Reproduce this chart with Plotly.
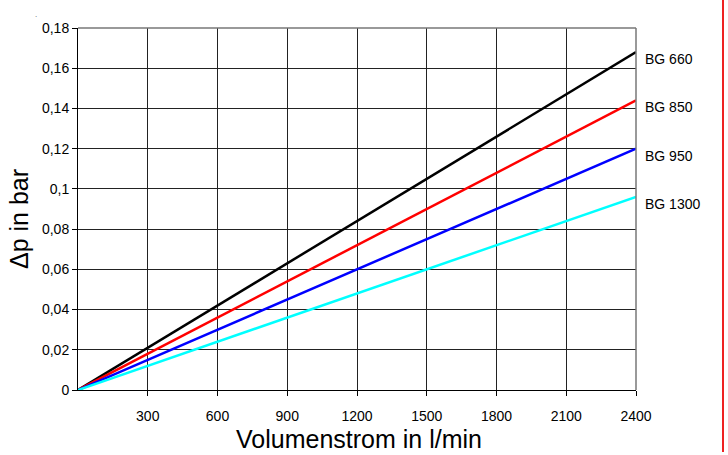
import plotly.graph_objects as go

flow = [0, 2400]
series_names = ["BG 660", "BG 850", "BG 950", "BG 1300"]
bg660 = [0, 0.168]
bg850 = [0, 0.144]
bg950 = [0, 0.120]
bg1300 = [0, 0.096]
colors = ["#000000", "#ff0000", "#0000ff", "#00ffff"]
x_ticks = [300, 600, 900, 1200, 1500, 1800, 2100, 2400]
y_ticks = [0, 0.02, 0.04, 0.06, 0.08, 0.1, 0.12, 0.14, 0.16, 0.18]
y_ticktext = ["0", "0,02", "0,04", "0,06", "0,08", "0,1", "0,12", "0,14", "0,16", "0,18"]
x_title = "Volumenstrom in l/min"
y_title = "Δp in bar"

fig = go.Figure()
all_series = [bg660, bg850, bg950, bg1300]
for name, vals, c in zip(series_names, all_series, colors):
    fig.add_trace(go.Scatter(x=flow, y=vals, mode="lines", name=name,
                             line=dict(color=c, width=2.5), showlegend=False))
    fig.add_annotation(x=flow[-1], y=vals[-1], xref="x", yref="y", text=name,
                       showarrow=False, xanchor="left", yanchor="middle",
                       xshift=7, yshift=-7, font=dict(size=14, color="#000"))

L, T, W, H = 78, 28, 558, 362
font = "Liberation Sans, Arial, Helvetica, sans-serif"
fig.update_layout(
    width=728, height=455,
    margin=dict(l=L, r=728 - L - W, t=T, b=455 - T - H),
    plot_bgcolor="white", paper_bgcolor="white",
    font=dict(family=font, color="#000", size=14),
    xaxis=dict(range=[0, 2400], tickvals=x_ticks, ticks="outside", ticklen=5,
               tickcolor="#000", showgrid=True, gridcolor="#222", gridwidth=1,
               showline=True, linecolor="#000", linewidth=1, mirror=False,
               zeroline=False, ticklabelstandoff=8, tickfont=dict(size=14)),
    yaxis=dict(range=[0, 0.18], tickvals=y_ticks, ticktext=y_ticktext, ticks="outside",
               ticklen=5, tickcolor="#000", showgrid=True, gridcolor="#222", gridwidth=1,
               showline=True, linecolor="#000", linewidth=1, zeroline=False,
               tickfont=dict(size=14)),
    shapes=[
        dict(type="line", xref="paper", yref="paper", x0=0, x1=1, y0=1, y1=1,
             line=dict(color="#777", width=1.5)),
        dict(type="line", xref="paper", yref="paper", x0=1, x1=1, y0=0, y1=1,
             line=dict(color="#777", width=1.5)),
        dict(type="line", xref="paper", yref="paper",
             x0=(723 - L) / W, x1=(723 - L) / W,
             y0=(T + H) / H, y1=(T + H - 452) / H,
             line=dict(color="#ee2222", width=2)),
    ],
)
fig.add_annotation(xref="paper", yref="paper", x=(359 - L) / W, y=(T + H - 439) / H,
                   text=x_title, showarrow=False, xanchor="center", yanchor="middle",
                   font=dict(size=25, color="#000"))
fig.add_annotation(xref="paper", yref="paper", x=(19 - L) / W, y=(T + H - 219) / H,
                   text=y_title, showarrow=False, xanchor="center", yanchor="middle",
                   textangle=-90, font=dict(size=25, color="#000"))
fig.add_annotation(xref="paper", yref="paper", x=(33 - L) / W, y=(T + H - 8) / H,
                   text=".", showarrow=False, font=dict(size=8, color="#555"))

fig.write_html("out.html")
